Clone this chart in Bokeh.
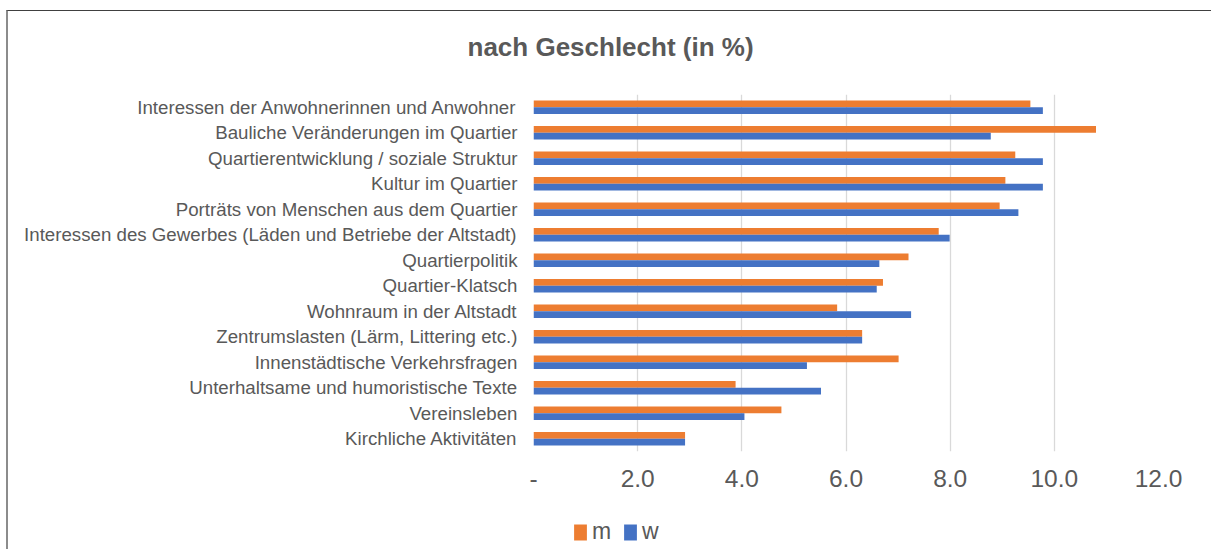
from bokeh.plotting import figure
from bokeh.layouts import column
from bokeh.models import (ColumnDataSource, FactorRange, Range1d, FixedTicker,
                          Label, Legend, LegendItem)
from bokeh.transform import dodge
from bokeh.embed import file_html
from bokeh.resources import INLINE

title_text = "nach Geschlecht (in %)"
categories = [
    "Interessen der Anwohnerinnen und Anwohner",
    "Bauliche Veränderungen im Quartier",
    "Quartierentwicklung / soziale Struktur",
    "Kultur im Quartier",
    "Porträts von Menschen aus dem Quartier",
    "Interessen des Gewerbes (Läden und Betriebe der Altstadt)",
    "Quartierpolitik",
    "Quartier-Klatsch",
    "Wohnraum in der Altstadt",
    "Zentrumslasten (Lärm, Littering etc.)",
    "Innenstädtische Verkehrsfragen",
    "Unterhaltsame und humoristische Texte",
    "Vereinsleben",
    "Kirchliche Aktivitäten",
]
m_values = [9.54, 10.80, 9.25, 9.06, 8.95, 7.78, 7.20, 6.71, 5.83, 6.31, 7.01, 3.88, 4.76, 2.91]
w_values = [9.78, 8.78, 9.78, 9.78, 9.31, 7.99, 6.64, 6.59, 7.25, 6.31, 5.25, 5.52, 4.05, 2.91]
x_ticks = [0, 2, 4, 6, 8, 10, 12]
x_tick_labels = ["-", "2.0", "4.0", "6.0", "8.0", "10.0", "12.0"]
series_names = ["m", "w"]

ORANGE = "#ED7D31"
BLUE = "#4472C4"
GREY = "#595959"
FONT = "Liberation Sans"

W = 1203
FL, FR = 525, 1150

# ---- title strip ----
HT = 83
tf = figure(width=W, height=HT, output_backend="svg", toolbar_location=None,
            x_range=Range1d(0, 1), y_range=Range1d(0, 1),
            min_border_left=0, min_border_right=0, min_border_top=0,
            min_border_bottom=0, frame_align=False)
tf.axis.visible = False
tf.grid.visible = False
tf.outline_line_color = None
tf.add_layout(Label(x=459, y=48, x_units="screen", y_units="screen",
                    text=title_text, text_font=FONT, text_font_size="26px",
                    text_font_style="bold", text_color=GREY,
                    text_align="left", text_baseline="alphabetic"))

# ---- main chart ----
src = ColumnDataSource(dict(cat=categories, m=m_values, w=w_values))
H = 407
FB = 357
p = figure(width=W, height=H, output_backend="svg", toolbar_location=None,
           y_range=FactorRange(factors=categories[::-1]),
           x_range=Range1d(0, 12),
           min_border_left=FL, min_border_right=W - FR,
           min_border_top=0, min_border_bottom=H - FB)
p.outline_line_color = None
p.background_fill_color = "white"
p.border_fill_color = "white"

r_m = p.hbar(y=dodge("cat", 0.132, range=p.y_range), right="m", left=0,
             height=0.262, source=src, fill_color=ORANGE, line_color=None)
r_w = p.hbar(y=dodge("cat", -0.132, range=p.y_range), right="w", left=0,
             height=0.262, source=src, fill_color=BLUE, line_color=None)

xa = p.xaxis[0]
xa.ticker = FixedTicker(ticks=x_ticks)
xa.major_label_overrides = {t: l for t, l in zip(x_ticks, x_tick_labels)}
xa.axis_line_color = None
xa.major_tick_line_color = None
xa.minor_tick_line_color = None
xa.major_tick_out = 0
xa.major_tick_in = 0
xa.major_label_standoff = 18
xa.major_label_text_font = FONT
xa.major_label_text_font_size = "24.5px"
xa.major_label_text_color = GREY

ya = p.yaxis[0]
ya.axis_line_color = None
ya.major_tick_line_color = None
ya.minor_tick_line_color = None
ya.major_tick_out = 0
ya.major_tick_in = 0
ya.major_label_standoff = 16
ya.major_label_text_font = FONT
ya.major_label_text_font_size = "18.7px"
ya.major_label_text_color = GREY

p.xgrid.ticker = FixedTicker(ticks=x_ticks)
p.xgrid.grid_line_color = "#D9D9D9"
p.xgrid.grid_line_width = 1.3
p.ygrid.grid_line_color = None

# ---- legend strip ----
H2 = 48
lg = figure(width=W, height=H2, output_backend="svg", toolbar_location=None,
            x_range=Range1d(0, 1), y_range=Range1d(0, 1),
            min_border_left=0, min_border_right=0, min_border_top=0,
            min_border_bottom=0)
lg.axis.visible = False
lg.grid.visible = False
lg.outline_line_color = None
proxy = ColumnDataSource(dict(y=[-5], right=[0]))
lm = lg.hbar(y="y", right="right", left=0, height=0.1, source=proxy,
             fill_color=ORANGE, line_color=None)
lw = lg.hbar(y="y", right="right", left=0, height=0.1, source=proxy,
             fill_color=BLUE, line_color=None)

legend = Legend(items=[LegendItem(label=series_names[0], renderers=[lm]),
                       LegendItem(label=series_names[1], renderers=[lw])],
                location=(39, 4), orientation="horizontal")
legend.border_line_color = None
legend.background_fill_alpha = 0
legend.padding = 0
legend.margin = 0
legend.spacing = 10
legend.glyph_width = 16
legend.glyph_height = 20
legend.label_standoff = 4
legend.label_text_font = FONT
legend.label_text_font_size = "23px"
legend.label_text_color = GREY
lg.add_layout(legend, "center")

layout = column(tf, p, lg, spacing=0,
                styles={"border-top": "1px solid #404040",
                        "border-left": "2px solid #8c8c8c",
                        "margin-top": "10px", "margin-left": "6px"})

open("out.html", "w").write(file_html(layout, INLINE))
